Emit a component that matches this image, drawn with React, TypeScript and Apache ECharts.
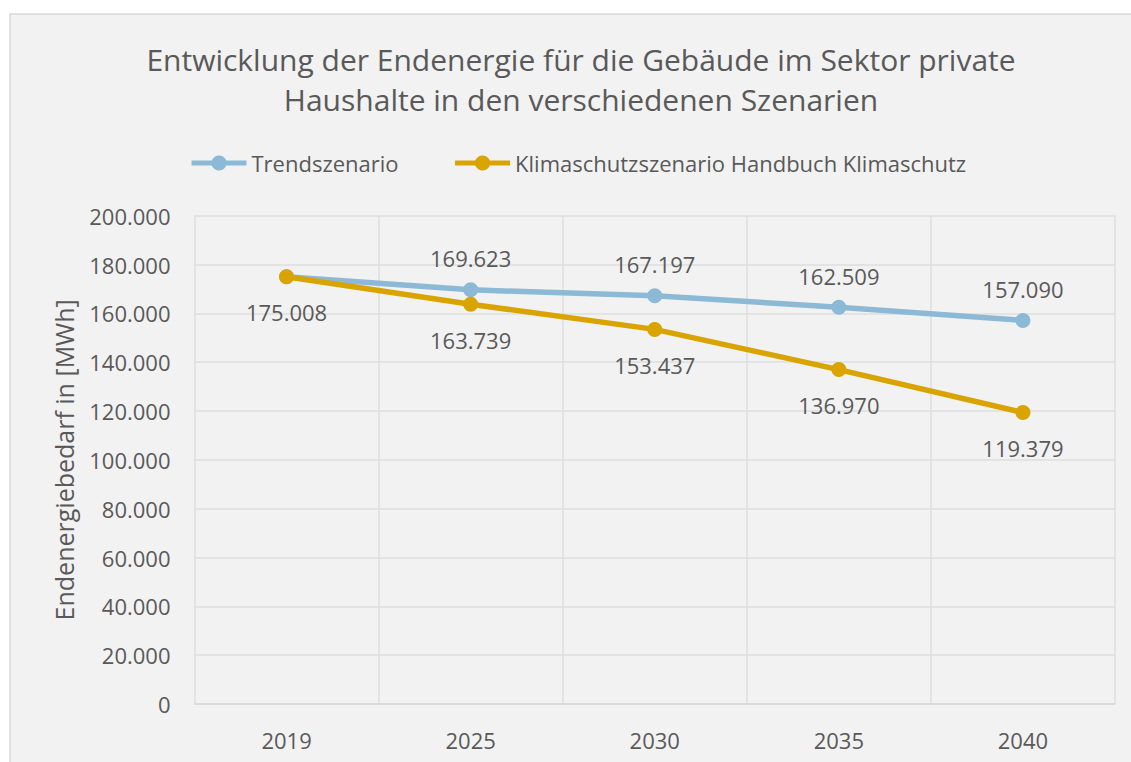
import React, { useEffect, useRef } from "react";
import * as echarts from "echarts";

const categories = ["2019", "2025", "2030", "2035", "2040"];
const trendValues = [175008, 169623, 167197, 162509, 157090];
const klimaValues = [175008, 163739, 153437, 136970, 119379];
const yTicks = [0, 20000, 40000, 60000, 80000, 100000, 120000, 140000, 160000, 180000, 200000];

const fmt = (v: number) => String(Math.round(v)).replace(/\B(?=(\d{3})+(?!\d))/g, ".");
const FONT = "'Open Sans', 'Noto Sans', sans-serif";
const TXT = "#595959";

export default function App() {
  const ref = useRef<HTMLDivElement>(null);
  useEffect(() => {
    document.body.style.margin = "0";
    const chart = echarts.init(ref.current!, undefined, { renderer: "svg" });
    chart.setOption({
      animation: false,
      backgroundColor: "#ffffff",
      textStyle: { fontFamily: FONT },
      graphic: [
        {
          type: "rect",
          z: -10,
          shape: { x: 10, y: 14, width: 1130, height: 760 },
          style: { fill: "#f2f2f2", stroke: "#d9d9d9", lineWidth: 1.5 },
        },
      ],
      title: {
        text: "Entwicklung der Endenergie für die Gebäude im Sektor private\nHaushalte in den verschiedenen Szenarien",
        left: 576,
        textAlign: "center",
        top: 34,
        textStyle: { fontFamily: FONT, fontSize: 30, fontWeight: "normal", color: TXT, lineHeight: 40 },
      },
      legend: {
        top: 147,
        left: 184,
        itemWidth: 55,
        itemHeight: 19,
        itemGap: 54,
        lineStyle: { width: 5 },
        textStyle: { fontFamily: FONT, fontSize: 22, color: TXT },
        data: ["Trendszenario", "Klimaschutzszenario Handbuch Klimaschutz"],
      },
      grid: { left: 194.5, top: 215.7, right: 16, bottom: 58, containLabel: false },
      xAxis: {
        type: "category",
        data: categories,
        boundaryGap: true,
        axisTick: { show: false },
        axisLine: { lineStyle: { color: "#d9d9d9", width: 1.5 } },
        splitLine: { show: true, lineStyle: { color: "#dedede", width: 1.5 } },
        axisLabel: { color: TXT, fontSize: 22, margin: 25, fontFamily: FONT },
      },
      yAxis: {
        type: "value",
        min: yTicks[0],
        max: yTicks[yTicks.length - 1],
        interval: 20000,
        name: "Endenergiebedarf in [MWh]",
        nameLocation: "middle",
        nameGap: 118,
        nameRotate: 90,
        nameTextStyle: { color: TXT, fontSize: 25, fontFamily: FONT },
        axisLine: { show: false },
        axisTick: { show: false },
        splitLine: { lineStyle: { color: "#dedede", width: 1.5 } },
        axisLabel: { color: TXT, fontSize: 22, margin: 24, fontFamily: FONT, formatter: (v: number) => fmt(v) },
      },
      series: [
        {
          name: "Trendszenario",
          type: "line",
          data: trendValues.map((v, i) => ({
            value: v,
            label: { show: i !== 0 },
          })),
          color: "#8cb9d5",
          lineStyle: { width: 5.5, color: "#8cb9d5" },
          symbol: "circle",
          symbolSize: 15,
          itemStyle: { color: "#8cb9d5" },
          label: {
            show: true,
            position: "top",
            distance: 13,
            color: TXT,
            fontSize: 22,
            fontFamily: FONT,
            formatter: (p: any) => fmt(p.value),
          },
          z: 2,
        },
        {
          name: "Klimaschutzszenario Handbuch Klimaschutz",
          type: "line",
          data: klimaValues,
          color: "#d9a400",
          lineStyle: { width: 5.5, color: "#d9a400" },
          symbol: "circle",
          symbolSize: 15,
          itemStyle: { color: "#d9a400" },
          label: {
            show: true,
            position: "bottom",
            distance: 17,
            color: TXT,
            fontSize: 22,
            fontFamily: FONT,
            formatter: (p: any) => fmt(p.value),
          },
          z: 3,
        },
      ],
    });
    return () => chart.dispose();
  }, []);
  return <div ref={ref} style={{ width: 1131, height: 762 }} />;
}
